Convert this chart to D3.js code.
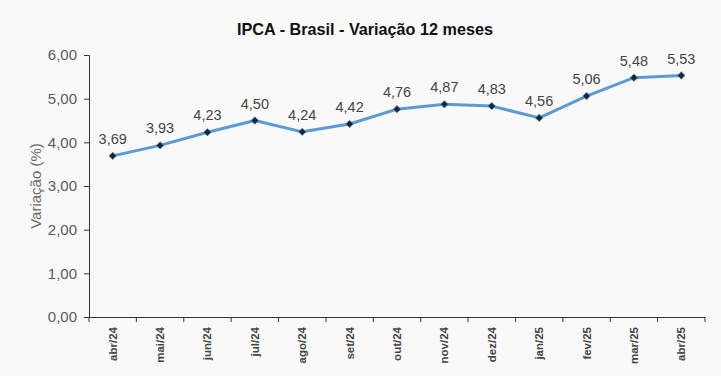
<!DOCTYPE html>
<html><head><meta charset="utf-8">
<script src="https://cdn.jsdelivr.net/npm/d3@7"></script>
<style>
body{margin:0;background:#f9f9f9;}
svg{display:block;font-family:"Liberation Sans",Arial,sans-serif;}
</style></head><body>
<svg id="c" width="721" height="376"></svg>
<script>
const categories = ["abr/24","mai/24","jun/24","jul/24","ago/24","set/24","out/24","nov/24","dez/24","jan/25","fev/25","mar/25","abr/25"];
const values = [3.69,3.93,4.23,4.50,4.24,4.42,4.76,4.87,4.83,4.56,5.06,5.48,5.53];
const yTicks = [0,1,2,3,4,5,6];
const title = "IPCA - Brasil - Variação 12 meses";
const yTitle = "Variação (%)";

const svg = d3.select("#c");
const fmt = v => v.toFixed(2).replace(".", ",");
const x0 = 89, x1 = 705, yTop = 55, yBot = 317;
const x = d3.scaleBand().domain(categories).range([x0, x1]);
const y = d3.scaleLinear().domain([0,6]).range([yBot, yTop]);

svg.append("rect").attr("width",721).attr("height",376).attr("fill","#f9f9f9");

svg.append("text").attr("x",365).attr("y",35).attr("text-anchor","middle")
  .attr("font-weight","bold").attr("font-size",16.2).attr("fill","#111").text(title);

// y axis
const ya = svg.append("g").attr("transform",`translate(${x0},0)`)
  .call(d3.axisLeft(y).tickValues(yTicks).tickFormat(fmt).tickSize(5).tickPadding(7));
ya.select(".domain").attr("stroke","#333");
ya.selectAll(".tick line").attr("stroke","#333");
ya.selectAll("text").attr("font-size",15).attr("fill","#595959").style("font-family","Liberation Sans, Arial, sans-serif");

// x axis
const xa = svg.append("g").attr("transform",`translate(0,${yBot})`)
  .call(d3.axisBottom(x).tickSize(0).tickFormat(d=>d));
xa.select(".domain").attr("stroke","#333").attr("d",`M${x0},0.5H${x1}`);
xa.selectAll(".tick text").attr("font-size",11.5).attr("font-weight","bold").attr("fill","#444")
  .style("font-family","Liberation Sans, Arial, sans-serif")
  .attr("transform","rotate(-90)").attr("text-anchor","end").attr("x",-10).attr("y",0).attr("dy","0.35em");
// boundary ticks
const bounds = categories.map(c => x(c)).concat([x1]);
xa.selectAll(".btick").data(bounds).enter().append("line")
  .attr("x1",d=>d).attr("x2",d=>d).attr("y1",0).attr("y2",5).attr("stroke","#333");

svg.append("text").attr("transform",`translate(41,${(yTop+yBot)/2}) rotate(-90)`)
  .attr("text-anchor","middle").attr("font-size",15).attr("fill","#6b6b6b").text(yTitle);

const cx = c => x(c) + x.bandwidth()/2;
const line = d3.line().x((d,i)=>cx(categories[i])).y(d=>y(d));
svg.append("path").datum(values).attr("d",line).attr("fill","none")
  .attr("stroke","#5b9bd5").attr("stroke-width",3).attr("stroke-linejoin","round");

svg.selectAll(".m").data(values).enter().append("rect")
  .attr("x",-2.6).attr("y",-2.6).attr("width",5.2).attr("height",5.2)
  .attr("transform",(d,i)=>`translate(${cx(categories[i])},${y(d)}) rotate(45)`)
  .attr("fill","#1b2633").attr("stroke","#4a7fae").attr("stroke-width",0.7);

svg.selectAll(".lbl").data(values).enter().append("text")
  .attr("x",(d,i)=>cx(categories[i])).attr("y",d=>y(d)-12)
  .attr("text-anchor","middle").attr("font-size",14.5).attr("fill","#444").text(fmt);
</script>
</body></html>
